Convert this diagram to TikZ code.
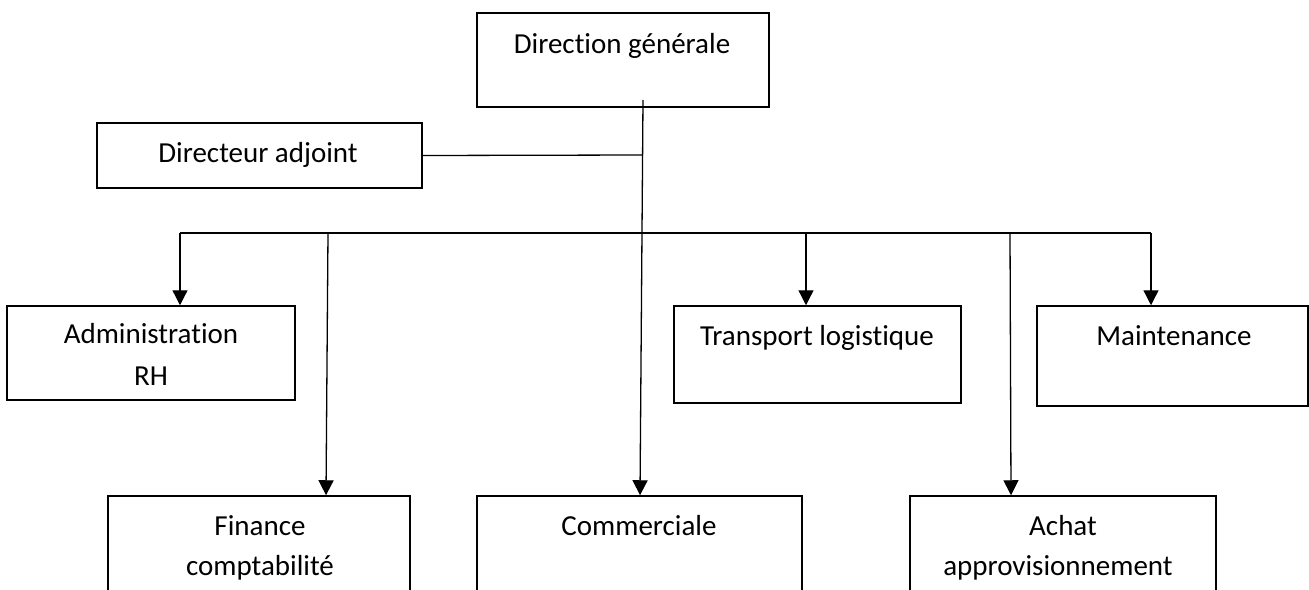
\documentclass[tikz,border=0pt]{standalone}
\usepackage{fontspec}
\setmainfont{Carlito}[Ligatures={NoCommon}]
\usetikzlibrary{arrows.meta}
\begin{document}
\begin{tikzpicture}[x=1pt,y=-1pt,
  box/.style={draw=black,line width=1.5pt,rectangle,inner sep=0pt},
  lbl/.style={anchor=base,inner sep=0pt,font=\fontsize{29}{35}\selectfont},
  wire/.style={draw=black,line width=1.3pt},
  arr/.style={wire,-{Triangle[width=15pt,length=15pt]}}]
\useasboundingbox (0,0) rectangle (1309,589);
\fill[white] (0,0) rectangle (1309,589);
\clip (0,0) rectangle (1309,589);
% boxes (corner-defined)
\node[box,minimum width=292pt,minimum height=94pt] (dg) at (623,60) {};
\node[box,minimum width=325pt,minimum height=65pt] (da) at (259.5,155.5) {};
\node[box,minimum width=288pt,minimum height=94pt] (adm) at (151,353) {};
\node[box,minimum width=287pt,minimum height=97pt] (tr) at (817.5,354.5) {};
\node[box,minimum width=271pt,minimum height=100pt] (mt) at (1172.5,356) {};
\node[box,minimum width=302pt,minimum height=120pt] (fin) at (259,556) {};
\node[box,minimum width=325pt,minimum height=120pt] (com) at (639.5,556) {};
\node[box,minimum width=306pt,minimum height=120pt] (ach) at (1063,556) {};
% texts
\node[lbl] (tdg) at (622,53) {Direction générale};
\node[lbl] (tda) at (258,162) {Directeur adjoint};
\node[lbl] (tadm1) at (151,343) {Administration};
\node[lbl] (tadm2) at (151,385) {RH};
\node[lbl] (ttr) at (817,345) {Transport logistique};
\node[lbl] (tmt) at (1174,345) {Maintenance};
\node[lbl] (tfin1) at (260,535) {Finance};
\node[lbl] (tfin2) at (260,575) {comptabilité};
\node[lbl] (tcom) at (639,535) {Commerciale};
\node[lbl] (tach1) at (1063,535) {Achat};
\node[lbl] (tach2) at (1058,575) {approvisionnement};
% connection points
\coordinate (top) at (643,100);
\coordinate (jda) at (643,155);
\coordinate (busL) at (180,233);
\coordinate (busR) at (1151,233);
\coordinate (bFin) at (328,233);
\coordinate (bTr) at (806,233);
\coordinate (bAch) at (1010,233);
% connectors
\draw[wire] (da.east) -- (jda);
\draw[arr] (top) -- (com.north -| 640,0);
\draw[wire] (busL) -- (busR);
\draw[arr] (busL) -- (adm.north -| busL);
\draw[arr] (bFin) -- (fin.north -| 326,0);
\draw[arr] (bTr) -- (tr.north -| bTr);
\draw[arr] (bAch) -- (ach.north -| 1011,0);
\draw[arr] (busR) -- (mt.north -| busR);
\end{tikzpicture}
\end{document}
